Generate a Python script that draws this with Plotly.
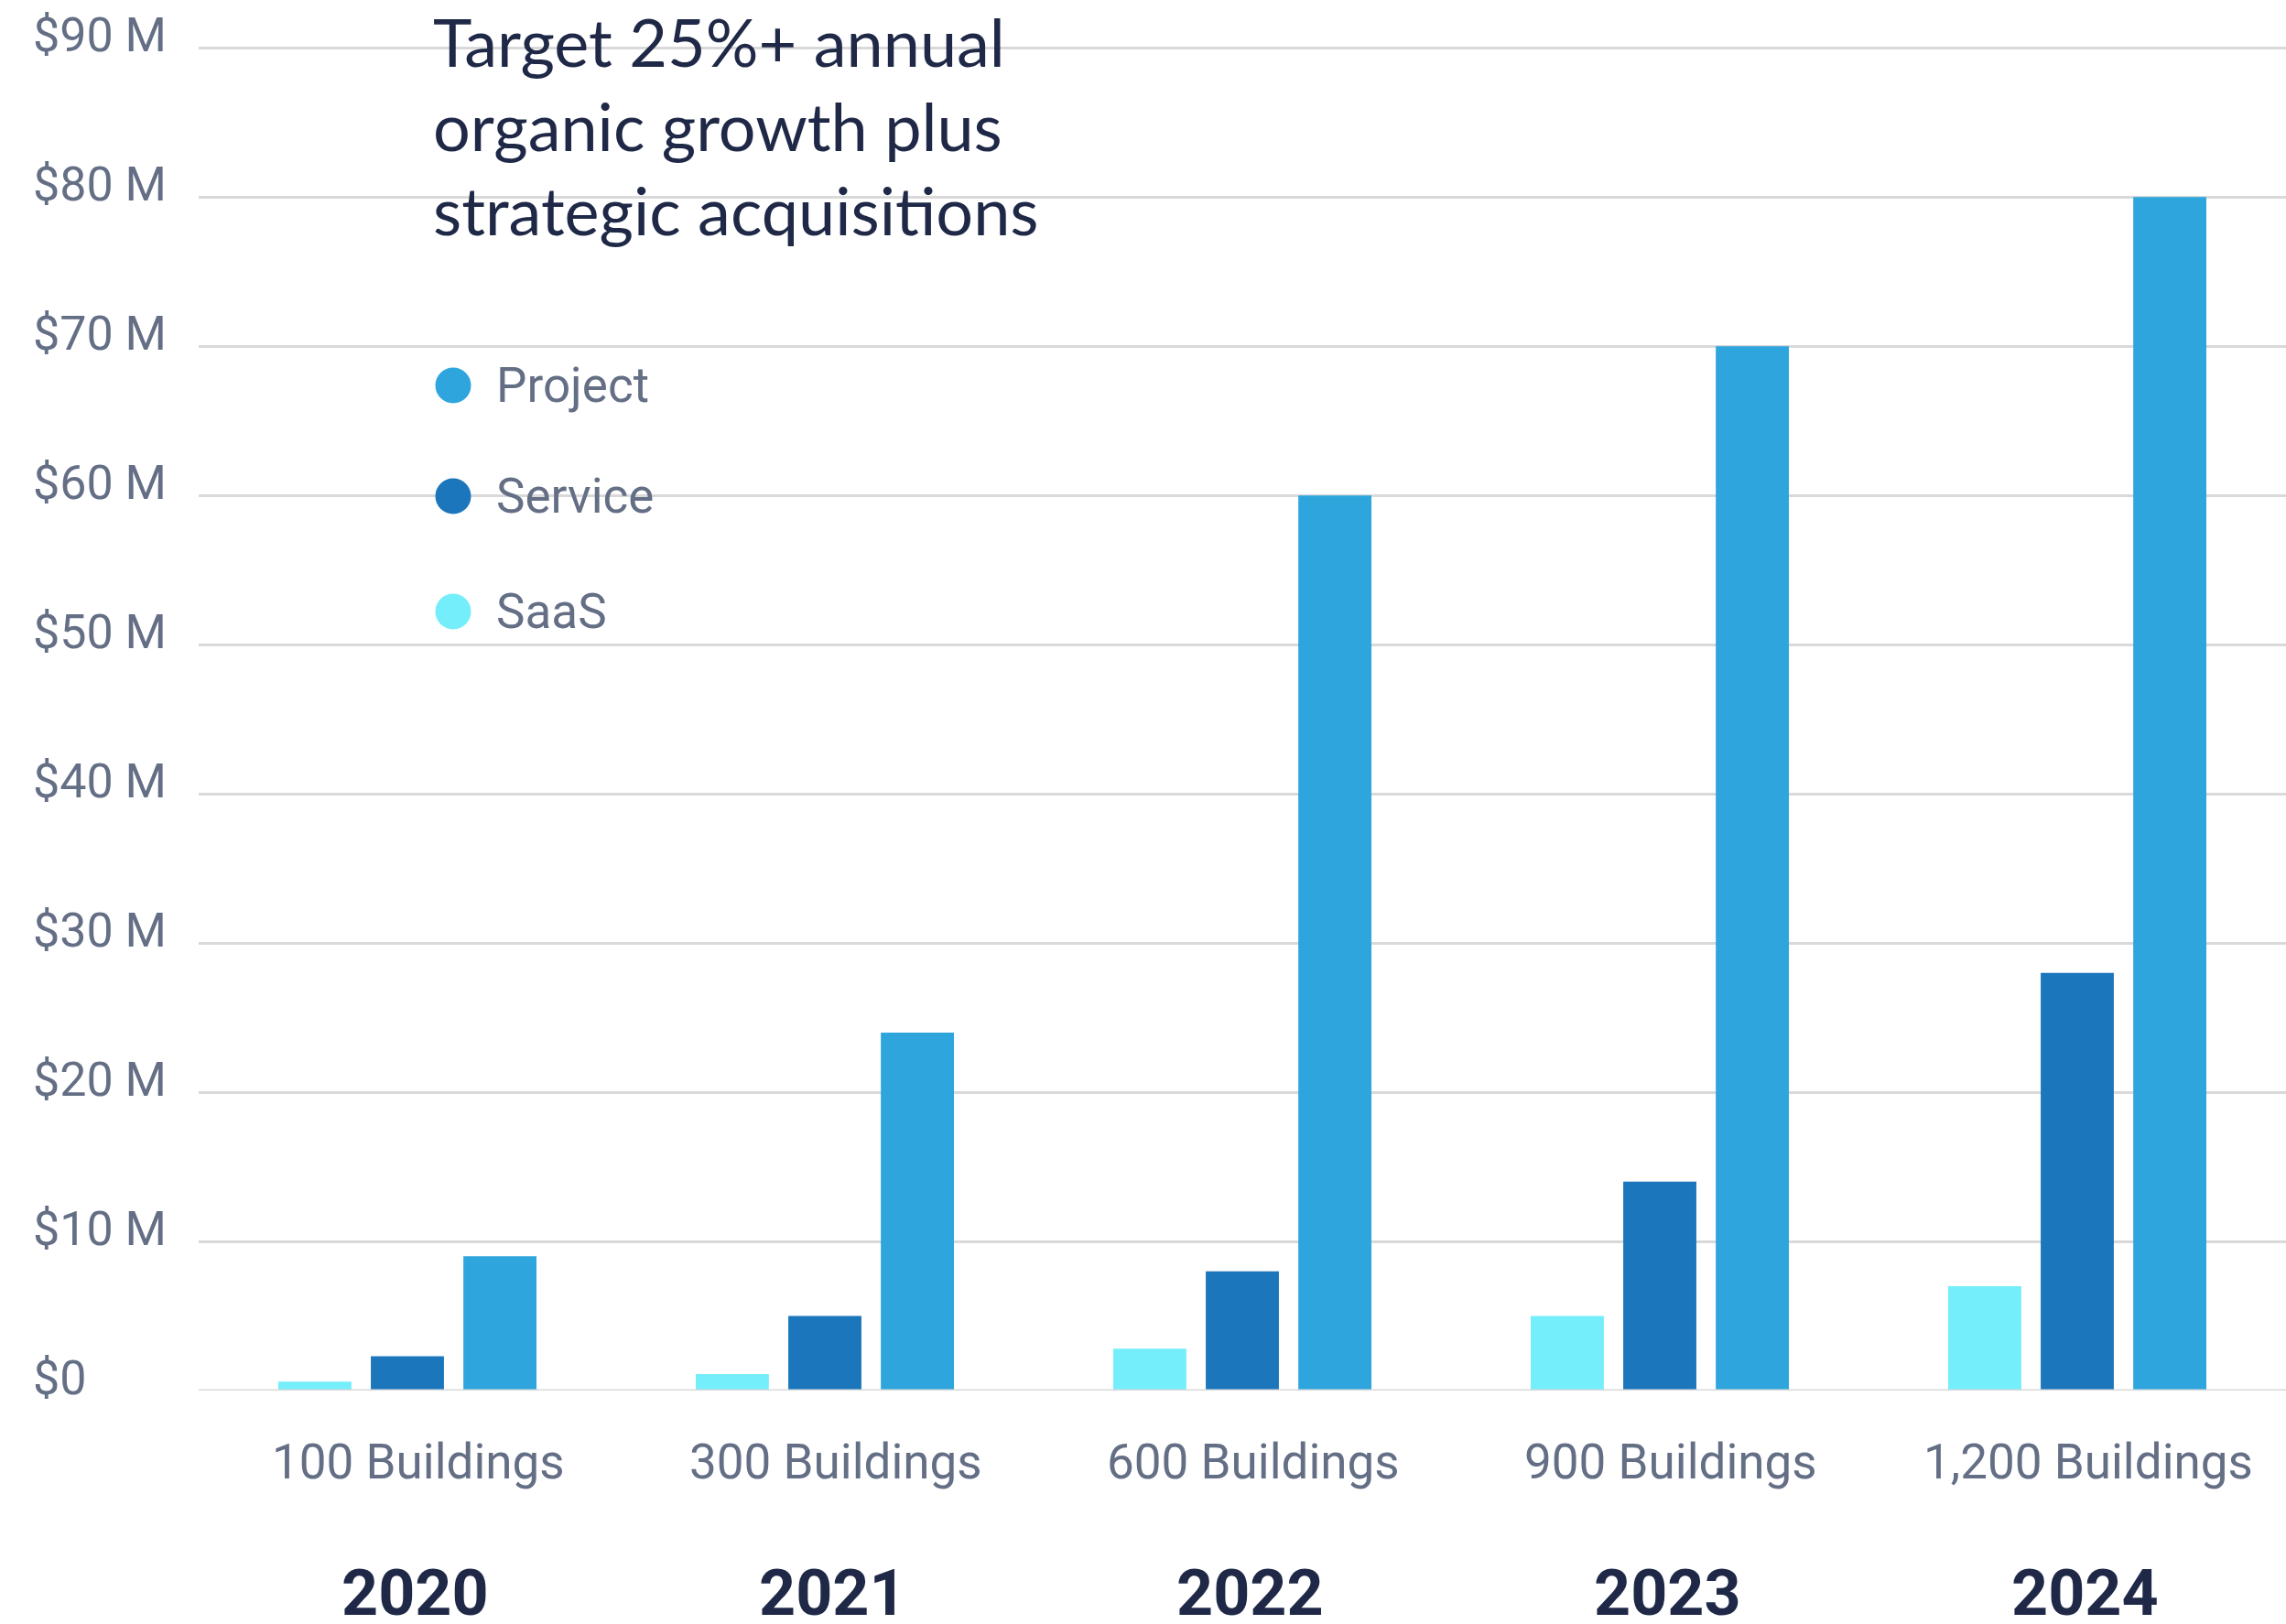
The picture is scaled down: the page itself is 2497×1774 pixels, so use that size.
import plotly.graph_objects as go

# ---------------- data ----------------
years = ["2020", "2021", "2022", "2023", "2024"]
buildings = ["100 Buildings", "300 Buildings", "600 Buildings", "900 Buildings", "1,200 Buildings"]
saas = [0.6, 1.1, 2.8, 5.0, 7.0]
service = [2.3, 5.0, 8.0, 14.0, 28.0]
project = [9.0, 24.0, 60.0, 70.0, 80.0]
legend_names = ["Project", "Service", "SaaS"]
y_ticks = [0, 10, 20, 30, 40, 50, 60, 70, 80, 90]
y_tick_labels = ["$0", "$10 M", "$20 M", "$30 M", "$40 M", "$50 M", "$60 M", "$70 M", "$80 M", "$90 M"]
title_lines = ["Target 25%+ annual", "organic growth plus", "strategic acquisitions"]

# ---------------- style ----------------
C_PROJECT = "#2ea6dd"
C_SERVICE = "#1c76bb"
C_SAAS = "#74eefa"
GREY_TXT = "#646f86"
NAVY = "#1f2947"
GRID = "#d9d9d9"
NARROW = "Roboto, sans-serif"
TITLE_FONT = "Lato, Open Sans, sans-serif"

W, H = 2497, 1774
L, R, T, B = 217, 0, 36, 255
PW, PH = W - L - R, H - T - B


def px_x(x):
    return (x - L) / PW


def px_y(y):
    return (H - B - y) / PH


fig = go.Figure()
for name, vals, col in [("SaaS", saas, C_SAAS), ("Service", service, C_SERVICE), ("Project", project, C_PROJECT)]:
    fig.add_trace(go.Bar(x=years, y=vals, name=name, marker=dict(color=col, line=dict(width=0)),
                         showlegend=False))

fig.update_layout(
    width=W, height=H,
    margin=dict(l=L, r=R, t=T, b=B),
    paper_bgcolor="white", plot_bgcolor="white",
    barmode="group", bargap=0.335, bargroupgap=0.21,
    showlegend=False,
)
fig.update_xaxes(type="category", range=[-0.5, len(years) - 0.5], showticklabels=False,
                 showgrid=False, zeroline=False, showline=False, ticks="")
fig.update_yaxes(range=[0, 91], tickvals=y_ticks, showticklabels=False, showgrid=True,
                 gridcolor=GRID, gridwidth=3, zeroline=False, showline=False, ticks="")

shapes = []
# translucent panel behind title & legend
shapes.append(dict(type="rect", xref="paper", yref="paper", x0=px_x(369), x1=px_x(1262),
                   y0=px_y(760), y1=1.0, fillcolor="rgba(255,255,255,0.75)", line=dict(width=0),
                   layer="between"))
# baseline above bars
shapes.append(dict(type="line", xref="paper", yref="y", x0=0, x1=1, y0=0, y1=0,
                   line=dict(color=GRID, width=3), layer="above"))
# legend dots
leg_cols = [C_PROJECT, C_SERVICE, C_SAAS]
leg_y = [421, 542, 668]
for col, yy in zip(leg_cols, leg_y):
    shapes.append(dict(type="circle", xref="paper", yref="paper", xsizemode="pixel", ysizemode="pixel",
                       xanchor=px_x(495), yanchor=px_y(yy), x0=-19.5, x1=19.5, y0=-19.5, y1=19.5,
                       fillcolor=col, line=dict(width=0), layer="above"))
fig.update_layout(shapes=shapes)

ann = []
# title lines
for i, line in enumerate(title_lines):
    ann.append(dict(text=line, xref="paper", yref="paper", x=px_x(471), y=px_y(45 + 92 * i),
                    xanchor="left", yanchor="middle", showarrow=False,
                    font=dict(family=TITLE_FONT, size=72, color=NAVY)))
# legend labels
for name, yy in zip(legend_names, leg_y):
    ann.append(dict(text=name, xref="paper", yref="paper", x=px_x(540), y=px_y(yy),
                    xanchor="left", yanchor="middle", showarrow=False,
                    font=dict(family=NARROW, size=53, color=GREY_TXT)))
# y tick labels
for v, lab in zip(y_ticks, y_tick_labels):
    ann.append(dict(text=lab, xref="paper", yref="y", x=px_x(34), y=v, yshift=14,
                    xanchor="left", yanchor="middle", showarrow=False,
                    font=dict(family=NARROW, size=52, color=GREY_TXT)))
# x category labels (positioned by category index)
for i, (yr, bl) in enumerate(zip(years, buildings)):
    ann.append(dict(text=bl, xref="x", yref="paper", x=i, y=px_y(1597), xshift=12,
                    xanchor="center", yanchor="middle", showarrow=False,
                    font=dict(family=NARROW, size=53, color=GREY_TXT)))
    ann.append(dict(text="<b>" + yr + "</b>", xref="x", yref="paper", x=i, y=px_y(1740), xshift=8,
                    xanchor="center", yanchor="middle", showarrow=False,
                    font=dict(family=NARROW, size=70, color=NAVY)))
fig.update_layout(annotations=ann)

fig.write_html("out.html")
